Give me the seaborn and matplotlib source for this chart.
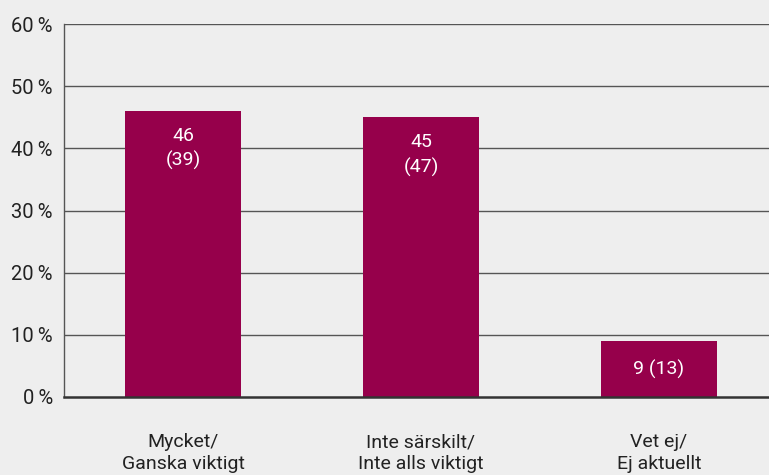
import matplotlib.pyplot as plt
import seaborn as sns
import pandas as pd

categories = ['Mycket/\nGanska viktigt', 'Inte särskilt/\nInte alls viktigt', 'Vet ej/\nEj aktuellt']
values = [46, 45, 9]
previous = [39, 47, 13]
bar_labels = ['46\n(39)', '45\n(47)', '9 (13)']

bg = '#eeeeee'
bar_color = '#96004b'
line_color = '#555555'

sns.set_style('white')
plt.rcParams['font.family'] = ['Roboto', 'DejaVu Sans']

df = pd.DataFrame({'cat': categories, 'value': values})

fig = plt.figure(figsize=(7.69, 4.75), dpi=100, facecolor=bg)
ax = fig.add_axes([64 / 769, 1 - 397 / 475, 714 / 769, 373 / 475])
ax.set_facecolor(bg)

sns.barplot(data=df, x='cat', y='value', color=bar_color, width=0.49, saturation=1,
            edgecolor=bar_color, linewidth=0, ax=ax, zorder=3)

ax.set_xlim(-0.5, 2.5)
ax.set_ylim(0, 60)
ax.set_yticks(range(0, 61, 10))
ax.set_yticklabels([f'{v}\u2009%' for v in range(0, 61, 10)], fontsize=14.5, color='#222222')
for y in range(10, 61, 10):
    ax.axhline(y, color=line_color, lw=1, zorder=1)

ax.set_xticks([0, 1, 2])
ax.set_xticklabels(categories, fontsize=14, color='#222222', linespacing=1.25)
ax.tick_params(axis='x', length=0, pad=26)
ax.tick_params(axis='y', length=0, pad=8)
ax.set_xticks([0.5, 1.5], minor=True)
ax.tick_params(axis='x', which='minor', direction='in', length=8, width=1, color=line_color)

ax.set_xlabel('')
ax.set_ylabel('')
for s in ['top', 'right']:
    ax.spines[s].set_visible(False)
ax.spines['left'].set_color(line_color)
ax.spines['left'].set_linewidth(1)
ax.spines['bottom'].set_color('#333333')
ax.spines['bottom'].set_linewidth(1.8)
ax.spines['bottom'].set_zorder(4)

for i, (v, lab) in enumerate(zip(values, bar_labels)):
    if v > 20:
        ax.text(i, v - 2.5, lab, ha='center', va='top', color='white', fontsize=14, linespacing=1.45, zorder=5)
    else:
        ax.text(i, v / 2, lab, ha='center', va='center', color='white', fontsize=14, zorder=5)

fig.savefig('out.png', dpi=100, facecolor=bg)
